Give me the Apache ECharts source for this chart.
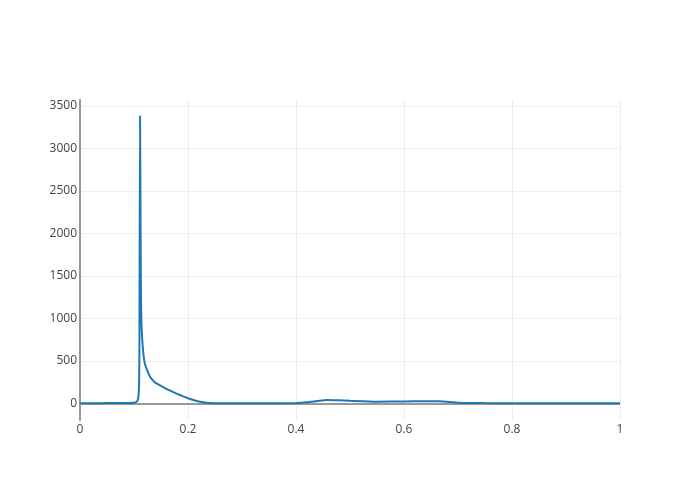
<!DOCTYPE html>
<html><head><meta charset="utf-8">
<script src="https://cdn.jsdelivr.net/npm/echarts@6/dist/echarts.min.js"></script>
<style>html,body{margin:0;padding:0;background:#fff}#c{width:700px;height:500px}</style>
</head><body><div id="c"></div>
<script>
const xValues = [0, 0.02, 0.04, 0.06, 0.08, 0.09, 0.1, 0.104, 0.107, 0.109, 0.110, 0.1112, 0.1118, 0.1125, 0.113, 0.114, 0.116, 0.118, 0.12, 0.125, 0.13, 0.135, 0.14, 0.15, 0.16, 0.17, 0.18, 0.19, 0.2, 0.21, 0.22, 0.23, 0.24, 0.26, 0.3, 0.35, 0.4, 0.42, 0.44, 0.457, 0.48, 0.5, 0.55, 0.6, 0.64, 0.665, 0.7, 0.75, 0.8, 0.9, 1];
const yValues = [0, 1, 2, 3, 4, 5, 8, 15, 40, 150, 600, 3380, 2600, 1700, 1200, 900, 680, 550, 470, 380, 310, 270, 240, 205, 170, 140, 112, 85, 60, 40, 22, 10, 5, 2, 1, 0, 4, 12, 28, 40, 36, 30, 20, 22, 25, 25, 8, 3, 1, 0, 0];
const xTicks = [0, 0.2, 0.4, 0.6, 0.8, 1];
const yTicks = [0, 500, 1000, 1500, 2000, 2500, 3000, 3500];

const chart = echarts.init(document.getElementById('c'), null, {renderer: 'canvas'});
const font = {fontFamily: '"Open Sans", sans-serif', fontSize: 12, color: '#444'};
chart.setOption({
  animation: false,
  grid: {left: 80, right: 80, top: 100, bottom: 80, containLabel: false},
  xAxis: {
    type: 'value', min: 0, max: 1, interval: 0.2,
    axisLine: {show: false},
    axisTick: {show: false},
    axisLabel: Object.assign({margin: 4, formatter: v => String(+v.toFixed(1))}, font),
    splitLine: {show: true, lineStyle: {color: '#eee', width: 1}}
  },
  yAxis: {
    type: 'value', min: -196, max: 3568,
    axisLine: {show: true, onZero: false, lineStyle: {color: '#999', width: 2}},
    axisTick: {show: false, customValues: yTicks},
    axisLabel: Object.assign({margin: 3, customValues: yTicks, formatter: v => String(v)}, font),
    splitLine: {show: true, lineStyle: {color: '#eee', width: 1}}
  },
  series: [
    {
      type: 'line', data: xValues.map((x, i) => [x, yValues[i]]),
      showSymbol: false, smooth: 0.2,
      lineStyle: {color: '#1f77b4', width: 2},
      markLine: {
        silent: true, symbol: 'none', label: {show: false},
        lineStyle: {color: '#999', width: 2, type: 'solid'},
        data: [{yAxis: 0}],
        z: 1
      },
      z: 3
    }
  ]
});
</script></body></html>
